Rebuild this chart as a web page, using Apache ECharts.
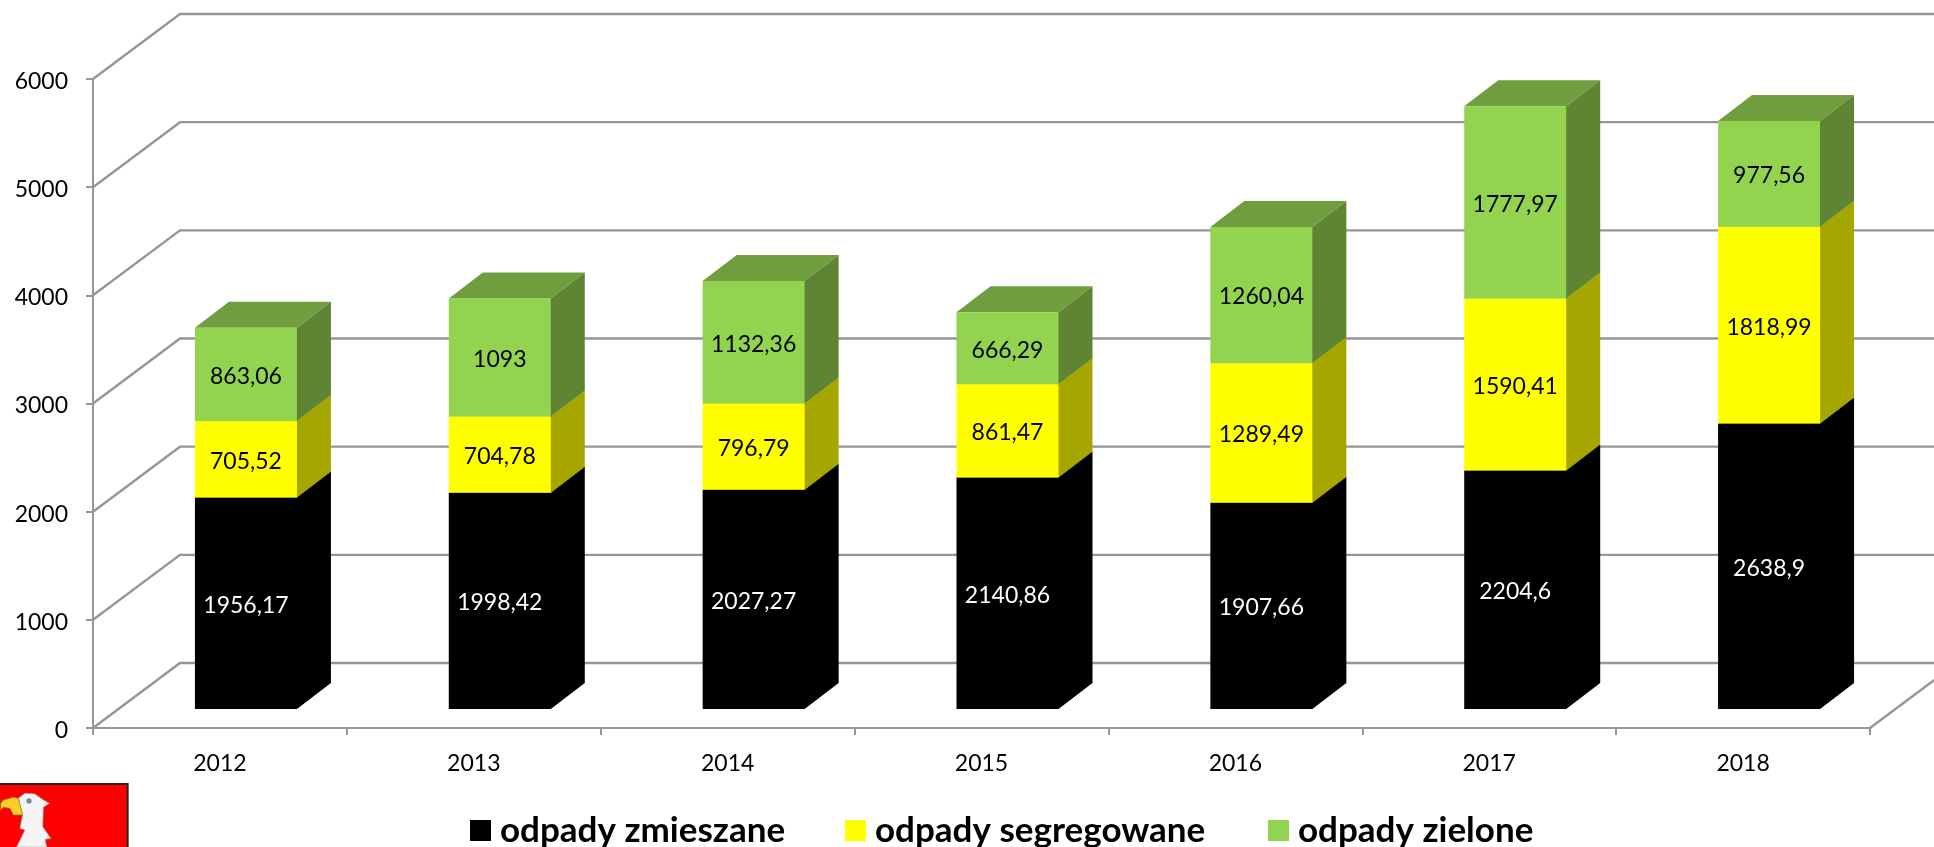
<!DOCTYPE html>
<html>
<head>
<meta charset="utf-8">
<style>html,body{margin:0;padding:0;background:#fff;overflow:hidden}#c{width:1934px;height:847px}</style>
<script src="https://cdn.jsdelivr.net/npm/echarts@6/dist/echarts.min.js"></script>
</head>
<body>
<div id="c"></div>
<script>
const categories = ['2012','2013','2014','2015','2016','2017','2018'];
const yTicks = [0,1000,2000,3000,4000,5000,6000];
const zmieszane = [1956.17,1998.42,2027.27,2140.86,1907.66,2204.6,2638.9];
const segregowane = [705.52,704.78,796.79,861.47,1289.49,1590.41,1818.99];
const zielone = [863.06,1093,1132.36,666.29,1260.04,1777.97,977.56];

const FONT = 'Lato, "Open Sans", sans-serif';
const GRID = '#969696';
const WALL_DX = 87, WALL_DY = 65;      // 3-D wall depth
const BAR_DX = 26, BAR_DY = 19;        // bar plane offset from the axis plane
const BAR_W = 102, DEPTH_X = 34, DEPTH_Y = 26;

function wall(params, api) {
  const cs = params.coordSys;
  const v = api.value(1);
  const p = api.coord([0, v]);
  const x0 = cs.x, y = p[1], x1 = cs.x + cs.width;
  const children = [{
    type: 'polyline',
    shape: { points: [[x0, y], [x0 + WALL_DX, y - WALL_DY], [x1 + WALL_DX, y - WALL_DY]] },
    style: { stroke: GRID, lineWidth: 2.4, fill: null }
  }];
  if (v === 0) {
    children.push({
      type: 'line',
      shape: { x1: x1, y1: y, x2: x1 + WALL_DX, y2: y - WALL_DY },
      style: { stroke: GRID, lineWidth: 2.4 }
    });
  }
  return { type: 'group', children };
}

function bar(colors, labelColor) {
  return function (params, api) {
    const cat = api.value(0), low = api.value(1), val = api.value(2);
    const pLow = api.coord([cat, low]);
    const pHigh = api.coord([cat, low + val]);
    const l = pLow[0] + BAR_DX - BAR_W / 2, r = l + BAR_W;
    const yb = pLow[1] - BAR_DY, yt = pHigh[1] - BAR_DY;
    return {
      type: 'group',
      children: [
        { type: 'polygon', shape: { points: [[l, yt], [r, yt], [r + DEPTH_X, yt - DEPTH_Y], [l + DEPTH_X, yt - DEPTH_Y]] },
          style: { fill: colors[2] } },
        { type: 'polygon', shape: { points: [[r - 1, yb], [r, yb], [r + DEPTH_X, yb - DEPTH_Y], [r + DEPTH_X, yt - DEPTH_Y], [r, yt], [r - 1, yt]] },
          style: { fill: colors[1] } },
        { type: 'rect', shape: { x: l, y: yt, width: BAR_W, height: yb - yt },
          style: { fill: colors[0] } },
        { type: 'text', style: {
            x: (l + r) / 2, y: (yt + yb) / 2 + 2,
            text: String(val).replace('.', ','),
            fill: labelColor, font: '23px ' + FONT,
            align: 'center', verticalAlign: 'middle' } }
      ]
    };
  };
}

function stacked(vals, ...below) {
  return vals.map((v, i) => [i, below.reduce((s, a) => s + a[i], 0), v]);
}

const legendBase = (name, left) => ({
  data: [name], left: left, top: 813, orient: 'horizontal',
  icon: 'rect', itemWidth: 21, itemHeight: 21, itemGap: 0,
  selectedMode: false, padding: 0,
  textStyle: { fontFamily: FONT, fontWeight: 'bold', fontSize: 35, color: '#000', padding: [0, 0, 0, 4] }
});

const chart = echarts.init(document.getElementById('c'), null, { renderer: 'canvas', width: 1934, height: 847 });
chart.setOption({
  backgroundColor: '#fff',
  animation: false,
  grid: { left: 93, right: 64, top: 79, bottom: 119, containLabel: false },
  legend: [
    legendBase('odpady zmieszane', 470),
    legendBase('odpady segregowane', 845),
    legendBase('odpady zielone', 1268)
  ],
  xAxis: {
    type: 'category', data: categories, boundaryGap: true,
    axisLine: { show: true, lineStyle: { color: GRID, width: 2 } },
    axisTick: { show: true, length: 7, alignWithLabel: false, lineStyle: { color: GRID, width: 2 } },
    axisLabel: { color: '#000', fontFamily: FONT, fontSize: 23, margin: 24 },
    splitLine: { show: false }
  },
  yAxis: {
    type: 'value', min: 0, max: 6000, interval: 1000,
    axisLine: { show: true, lineStyle: { color: GRID, width: 2 } },
    axisTick: { show: true, length: 7, lineStyle: { color: GRID, width: 2 } },
    axisLabel: {
      color: '#000', fontFamily: FONT, fontSize: 23, margin: 25,
      formatter: v => '{t|' + v + '}',
      rich: { t: { color: '#000', fontFamily: FONT, fontSize: 23, padding: [5, 0, 0, 0] } }
    },
    splitLine: { show: false }
  },
  graphic: [{
    type: 'group', x: 0, y: 770, scaleX: 1 / 3, scaleY: 1 / 3, silent: true,
    children: [
      { type: 'rect', shape: { x: -10, y: 42, width: 393, height: 220 }, style: { fill: '#fe0000', stroke: '#262626', lineWidth: 6 } },
      { type: 'polygon', shape: { points: [[55,85],[75,70],[105,72],[130,90],[148,100],[130,112],[128,170],[152,205],[135,208],[140,231],[50,231],[75,180],[60,175],[68,135]] },
        style: { fill: '#f4f4f4', stroke: '#b0b0b0', lineWidth: 2 } },
      { type: 'polygon', shape: { points: [[2,100],[10,90],[40,82],[55,85],[68,135],[40,135],[30,115],[10,112],[2,120]] },
        style: { fill: '#f3cf2a', stroke: '#8a7414', lineWidth: 2 } },
      { type: 'circle', shape: { cx: 87, cy: 93, r: 8 }, style: { fill: '#7f8c90' } }
    ]
  }],
  series: [
    { name: 'wall', type: 'custom', renderItem: wall, silent: true, z: 1,
      data: yTicks.map(v => [0, v]), encode: { x: 0, y: 1 } },
    { name: 'odpady zmieszane', type: 'custom', z: 3, itemStyle: { color: '#000000' },
      renderItem: bar(['#000000', '#000000', '#000000'], '#ffffff'),
      data: stacked(zmieszane), encode: { x: 0, y: [1, 2] } },
    { name: 'odpady segregowane', type: 'custom', z: 4, itemStyle: { color: '#ffff00' },
      renderItem: bar(['#ffff00', '#a6a600', '#c0c000'], '#000000'),
      data: stacked(segregowane, zmieszane), encode: { x: 0, y: [1, 2] } },
    { name: 'odpady zielone', type: 'custom', z: 5, itemStyle: { color: '#92d350' },
      renderItem: bar(['#92d350', '#5f8534', '#709e3e'], '#000000'),
      data: stacked(zielone, zmieszane, segregowane), encode: { x: 0, y: [1, 2] } }
  ]
});
</script>
</body>
</html>
